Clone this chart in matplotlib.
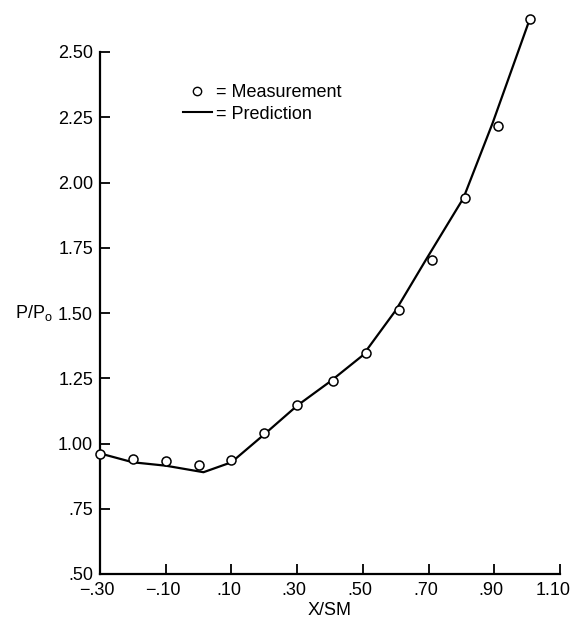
import matplotlib
matplotlib.use("Agg")
import matplotlib.pyplot as plt
from matplotlib.lines import Line2D
from matplotlib.transforms import ScaledTranslation

plt.rcParams["font.family"] = ["Liberation Sans", "DejaVu Sans"]

# measured P/Po along X/SM
meas_x = [-0.30, -0.20, -0.10, 0.00, 0.10, 0.20, 0.30, 0.41, 0.51, 0.61, 0.71, 0.81, 0.91, 1.01]
meas_y = [0.96, 0.94, 0.934, 0.918, 0.935, 1.04, 1.148, 1.239, 1.348, 1.51, 1.704, 1.94, 2.217, 2.627]

# predicted curve
pred_x = [-0.30, -0.20, -0.10, 0.015, 0.10, 0.20, 0.30, 0.40, 0.50, 0.60, 0.692, 0.806, 0.895, 1.004]
pred_y = [0.962, 0.928, 0.915, 0.89, 0.928, 1.035, 1.145, 1.237, 1.338, 1.51, 1.704, 1.94, 2.228, 2.612]

xticks = [-0.30, -0.10, 0.10, 0.30, 0.50, 0.70, 0.90, 1.10]
xtick_labels = ["\u2212.30", "\u2212.10", ".10", ".30", ".50", ".70", ".90", "1.10"]
yticks = [0.50, 0.75, 1.00, 1.25, 1.50, 1.75, 2.00, 2.25, 2.50]
ytick_labels = [".50", ".75", "1.00", "1.25", "1.50", "1.75", "2.00", "2.25", "2.50"]

W, H = 573, 622
fig = plt.figure(figsize=(W / 100, H / 100), dpi=100)
ax = fig.add_axes([100 / W, 1 - 574 / H, 460 / W, 522 / H])

ax.plot(pred_x, pred_y, color="black", lw=1.6, clip_on=False, zorder=2)
ax.plot(meas_x, meas_y, ls="none", marker="o", ms=6.5, mfc="white", mec="black",
        mew=1.1, clip_on=False, zorder=3)

ax.set_xlim(-0.30, 1.10)
ax.set_ylim(0.50, 2.50)
ax.set_xticks(xticks)
ax.set_xticklabels(xtick_labels)
ax.set_yticks(yticks)
ax.set_yticklabels(ytick_labels)
ax.tick_params(direction="in", length=7, width=1.3, labelsize=13, pad=6, colors="black")
ax.tick_params(axis="y", pad=5)
for side in ("top", "right"):
    ax.spines[side].set_visible(False)
for side in ("left", "bottom"):
    ax.spines[side].set_linewidth(1.6)

# the printed x labels sit a little left of their ticks
labels = ax.get_xticklabels()
for i, lab in enumerate(labels):
    dx = -7 if i == len(labels) - 1 else -3
    lab.set_transform(lab.get_transform() + ScaledTranslation(dx / 100, 0, fig.dpi_scale_trans))

ax.set_xlabel("X/SM", fontsize=13, labelpad=2)
fig.text(15 / W, 1 - 313 / H, r"P/P$_\mathregular{o}$", fontsize=13, va="center", ha="left")

handles = [
    Line2D([], [], ls="none", marker="o", ms=6, mfc="white", mec="black", mew=1.0),
    Line2D([], [], color="black", lw=1.5),
]
fig.legend(handles, ["= Measurement", "= Prediction"], loc="upper left",
           bbox_to_anchor=(183 / W, 1 - 84 / H), frameon=False, fontsize=13,
           handlelength=1.6, handletextpad=0.25, labelspacing=0.25,
           borderpad=0, borderaxespad=0)

fig.savefig("out.png", dpi=100)
